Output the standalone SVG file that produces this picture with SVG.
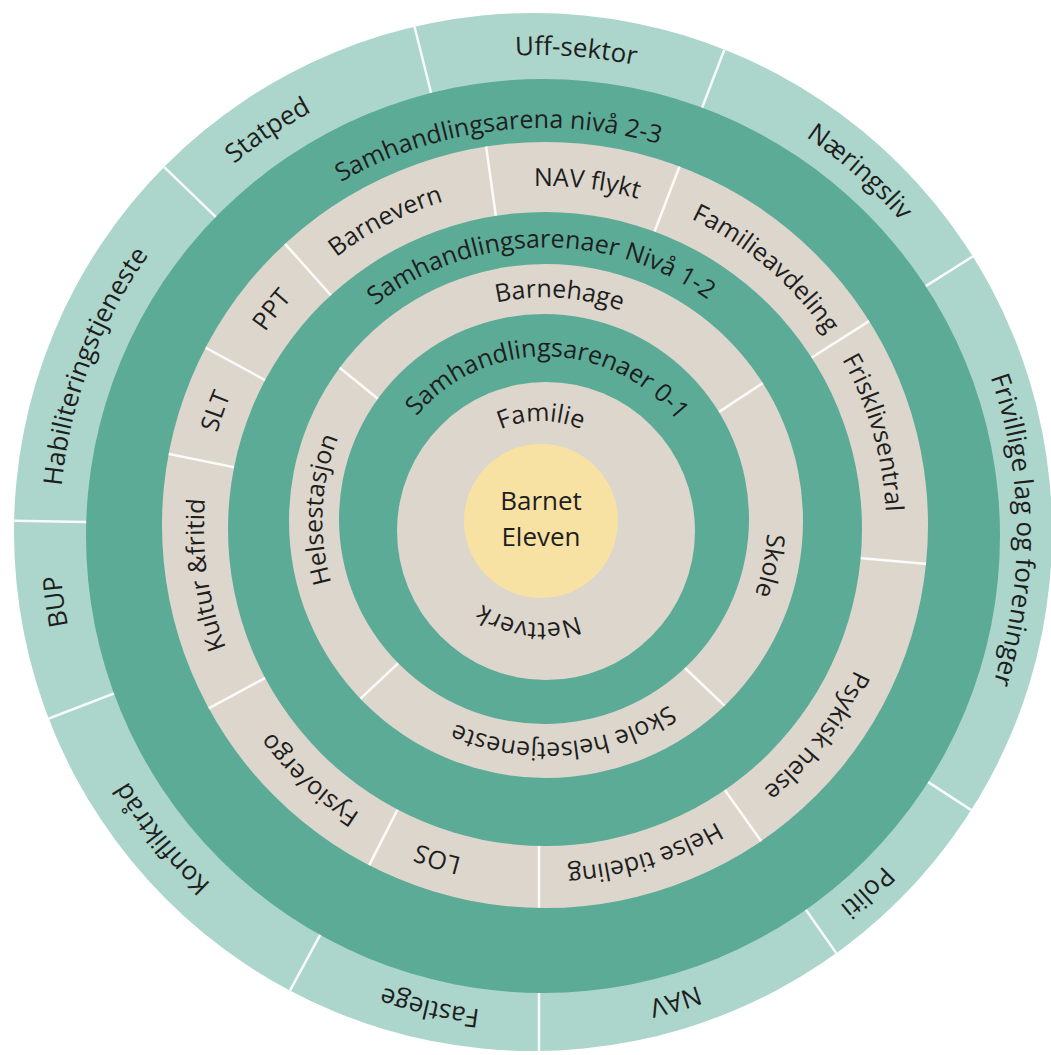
<svg xmlns="http://www.w3.org/2000/svg" xmlns:xlink="http://www.w3.org/1999/xlink" width="1051" height="1055" viewBox="0 0 1051 1055">
<style>
.t{font-family:"Open Sans","Liberation Sans",sans-serif;font-size:25px;fill:#1e1e1e;text-anchor:middle}
.o{font-size:26px}
.c{font-size:26px}
.dv{stroke:#ffffff;stroke-width:2.5;stroke-opacity:0.9}
.light{fill:#acd5cb}
.dark{fill:#5cab97}
.beige{fill:#ddd6cc}
.core{fill:#f8e2a3}
</style>
<defs>
<clipPath id="clipOuter"><circle cx="533" cy="532" r="519"/></clipPath>
<clipPath id="clipB3"><circle cx="545" cy="525" r="383"/></clipPath>
<clipPath id="clipB2"><circle cx="546" cy="521" r="257"/></clipPath>
<path id="pOuter" d="M61.1,492.3 A478.7,478.7 0 0 1 1014.9,492.3"/>
<path id="pDark1" d="M135.3,494.7 A411.1,411.1 0 0 1 952.7,494.7"/>
<path id="pB3" d="M205.2,497.3 A341.1,341.1 0 0 1 884.8,497.3"/>
<path id="pDark2" d="M268.5,500.8 A278.1,278.1 0 0 1 822.5,500.8"/>
<path id="pB2" d="M323.7,500.6 A222.1,222.1 0 0 1 766.3,500.6"/>
<path id="pDark3" d="M377.5,510.3 A168.1,168.1 0 0 1 712.5,510.3"/>
<path id="pB1" d="M440.3,513.2 A101.1,101.1 0 0 1 641.7,513.2"/>
</defs>

<g id="ring-outer">
<circle class="light" cx="533" cy="532" r="519"/>
<g id="outer-dividers" clip-path="url(#clipOuter)">
<line class="dv" x1="540" y1="90" x2="540" y2="-10" transform="rotate(346 540 530)"/>
<line class="dv" x1="540" y1="90" x2="540" y2="-10" transform="rotate(21 540 530)"/>
<line class="dv" x1="540" y1="90" x2="540" y2="-10" transform="rotate(57.7 540 530)"/>
<line class="dv" x1="540" y1="90" x2="540" y2="-10" transform="rotate(123 540 530)"/>
<line class="dv" x1="540" y1="90" x2="540" y2="-10" transform="rotate(145 540 530)"/>
<line class="dv" x1="540" y1="90" x2="540" y2="-10" transform="rotate(180 539.5 530)"/>
<line class="dv" x1="540" y1="90" x2="540" y2="-10" transform="rotate(208.5 540 530)"/>
<line class="dv" x1="540" y1="90" x2="540" y2="-10" transform="rotate(249 540 530)"/>
<line class="dv" x1="540" y1="90" x2="540" y2="-10" transform="rotate(271 540 530)"/>
<line class="dv" x1="540" y1="90" x2="540" y2="-10" transform="rotate(314 540 530)"/>
</g>
</g>

<g id="ring-arena-2-3">
<circle class="dark" cx="543" cy="536" r="457"/>
</g>

<g id="ring-services">
<circle class="beige" cx="545" cy="525" r="383"/>
<g id="service-dividers" clip-path="url(#clipB3)">
<line class="dv" x1="540" y1="230" x2="540" y2="130" transform="rotate(352 540 530)"/>
<line class="dv" x1="540" y1="230" x2="540" y2="130" transform="rotate(21 540 530)"/>
<line class="dv" x1="540" y1="230" x2="540" y2="130" transform="rotate(57.6 540 530)"/>
<line class="dv" x1="540" y1="230" x2="540" y2="130" transform="rotate(95 540 530)"/>
<line class="dv" x1="540" y1="230" x2="540" y2="130" transform="rotate(144.6 540 530)"/>
<line class="dv" x1="540" y1="230" x2="540" y2="130" transform="rotate(180 539.5 530)"/>
<line class="dv" x1="540" y1="230" x2="540" y2="130" transform="rotate(207 540 530)"/>
<line class="dv" x1="540" y1="230" x2="540" y2="130" transform="rotate(241.7 540 530)"/>
<line class="dv" x1="540" y1="230" x2="540" y2="130" transform="rotate(281.6 540 530)"/>
<line class="dv" x1="540" y1="230" x2="540" y2="130" transform="rotate(298.6 540 530)"/>
<line class="dv" x1="540" y1="230" x2="540" y2="130" transform="rotate(318.3 540 530)"/>
</g>
</g>

<g id="ring-arena-1-2">
<circle class="dark" cx="545" cy="529" r="317"/>
</g>

<g id="ring-basic">
<circle class="beige" cx="546" cy="521" r="257"/>
<g id="basic-dividers" clip-path="url(#clipB2)">
<line class="dv" x1="540" y1="340" x2="540" y2="260" transform="rotate(309 540 530)"/>
<line class="dv" x1="540" y1="340" x2="540" y2="260" transform="rotate(56.6 540 530)"/>
<line class="dv" x1="540" y1="340" x2="540" y2="260" transform="rotate(133.6 540 530)"/>
<line class="dv" x1="540" y1="340" x2="540" y2="260" transform="rotate(226.8 540 530)"/>
</g>
</g>

<g id="ring-arena-0-1">
<circle class="dark" cx="544" cy="519" r="205"/>
</g>

<g id="ring-family">
<circle class="beige" cx="546" cy="531" r="149"/>
</g>

<g id="core">
<circle class="core" cx="541" cy="521" r="77"/>
<text class="t c" x="541" y="510">Barnet</text>
<text class="t c" x="541" y="546">Eleven</text>
</g>

<g id="labels-outer">
<g id="seg-uff-sektor"><text class="t o" transform="rotate(4.5 538 534)"><textPath xlink:href="#pOuter" href="#pOuter" startOffset="50%">Uff-sektor</textPath></text></g>
<g id="seg-naeringsliv"><text class="t o" transform="rotate(41.6 538 534)"><textPath xlink:href="#pOuter" href="#pOuter" startOffset="50%">Næringsliv</textPath></text></g>
<g id="seg-frivillige"><text class="t o" transform="rotate(89.5 538 534)"><textPath xlink:href="#pOuter" href="#pOuter" startOffset="50%">Frivillige lag og foreninger</textPath></text></g>
<g id="seg-politi"><text class="t o" transform="rotate(137.4 538 534)"><textPath xlink:href="#pOuter" href="#pOuter" startOffset="50%">Politi</textPath></text></g>
<g id="seg-nav"><text class="t o" transform="rotate(163.6 538 534)"><textPath xlink:href="#pOuter" href="#pOuter" startOffset="50%">NAV</textPath></text></g>
<g id="seg-fastlege"><text class="t o" transform="rotate(192.9 538 534)"><textPath xlink:href="#pOuter" href="#pOuter" startOffset="50%">Fastlege</textPath></text></g>
<g id="seg-konfliktraad"><text class="t o" transform="rotate(231 538 534)"><textPath xlink:href="#pOuter" href="#pOuter" startOffset="50%">Konfliktråd</textPath></text></g>
<g id="seg-bup"><text class="t o" transform="rotate(262 538 534)"><textPath xlink:href="#pOuter" href="#pOuter" startOffset="50%">BUP</textPath></text></g>
<g id="seg-habilitering"><text class="t o" transform="rotate(290.7 538 534)"><textPath xlink:href="#pOuter" href="#pOuter" startOffset="50%">Habiliteringstjeneste</textPath></text></g>
<g id="seg-statped"><text class="t o" transform="rotate(326.2 538 534)"><textPath xlink:href="#pOuter" href="#pOuter" startOffset="50%">Statped</textPath></text></g>
</g>

<g id="label-arena-2-3"><text class="t" transform="rotate(353.2 544 530.5)"><textPath xlink:href="#pDark1" href="#pDark1" startOffset="50%">Samhandlingsarena nivå 2-3</textPath></text></g>

<g id="labels-services">
<g id="seg-nav-flykt"><text class="t" transform="rotate(7 545 527)"><textPath xlink:href="#pB3" href="#pB3" startOffset="50%">NAV flykt</textPath></text></g>
<g id="seg-familieavdeling"><text class="t" transform="rotate(40.5 545 527)"><textPath xlink:href="#pB3" href="#pB3" startOffset="50%">Familieavdeling</textPath></text></g>
<g id="seg-frisklivsentral"><text class="t" transform="rotate(74 545 527)"><textPath xlink:href="#pB3" href="#pB3" startOffset="50%">Frisklivsentral</textPath></text></g>
<g id="seg-psykisk-helse"><text class="t" transform="rotate(127.5 545 527)"><textPath xlink:href="#pB3" href="#pB3" startOffset="50%">Psykisk helse</textPath></text></g>
<g id="seg-helse-tideling"><text class="t" transform="rotate(163 545 527)"><textPath xlink:href="#pB3" href="#pB3" startOffset="50%">Helse tideling</textPath></text></g>
<g id="seg-los"><text class="t" transform="rotate(198 545 527)"><textPath xlink:href="#pB3" href="#pB3" startOffset="50%">LOS</textPath></text></g>
<g id="seg-fysio-ergo"><text class="t" transform="rotate(223 545 527)"><textPath xlink:href="#pB3" href="#pB3" startOffset="50%">Fysio/ergo</textPath></text></g>
<g id="seg-kultur-fritid"><text class="t" transform="rotate(262 545 527)"><textPath xlink:href="#pB3" href="#pB3" startOffset="50%">Kultur &amp;fritid</textPath></text></g>
<g id="seg-slt"><text class="t" transform="rotate(289.4 545 527)"><textPath xlink:href="#pB3" href="#pB3" startOffset="50%">SLT</textPath></text></g>
<g id="seg-ppt"><text class="t" transform="rotate(308.5 545 527)"><textPath xlink:href="#pB3" href="#pB3" startOffset="50%">PPT</textPath></text></g>
<g id="seg-barnevern"><text class="t" transform="rotate(332.5 545 527)"><textPath xlink:href="#pB3" href="#pB3" startOffset="50%">Barnevern</textPath></text></g>
</g>

<g id="label-arena-1-2"><text class="t" transform="rotate(359 545.5 525)"><textPath xlink:href="#pDark2" href="#pDark2" startOffset="50%">Samhandlingsarenaer Nivå 1-2</textPath></text></g>

<g id="labels-basic">
<g id="seg-barnehage"><text class="t" transform="rotate(3.7 545 520)"><textPath xlink:href="#pB2" href="#pB2" startOffset="50%">Barnehage</textPath></text></g>
<g id="seg-skole"><text class="t" transform="rotate(101.5 545 520)"><textPath xlink:href="#pB2" href="#pB2" startOffset="50%">Skole</textPath></text></g>
<g id="seg-skolehelse"><text class="t" transform="rotate(175 545 520)"><textPath xlink:href="#pB2" href="#pB2" startOffset="50%">Skole helsetjeneste</textPath></text></g>
<g id="seg-helsestasjon"><text class="t" transform="rotate(272.7 545 520)"><textPath xlink:href="#pB2" href="#pB2" startOffset="50%">Helsestasjon</textPath></text></g>
</g>

<g id="label-arena-0-1"><text class="t" transform="rotate(1 545 525)"><textPath xlink:href="#pDark3" href="#pDark3" startOffset="50%">Samhandlingsarenaer 0-1</textPath></text></g>

<g id="labels-family">
<g id="seg-familie"><text class="t" transform="rotate(0 541 522)"><textPath xlink:href="#pB1" href="#pB1" startOffset="50%">Familie</textPath></text></g>
<g id="seg-nettverk"><text class="t" transform="rotate(187 541 522)"><textPath xlink:href="#pB1" href="#pB1" startOffset="50%">Nettverk</textPath></text></g>
</g>
</svg>
